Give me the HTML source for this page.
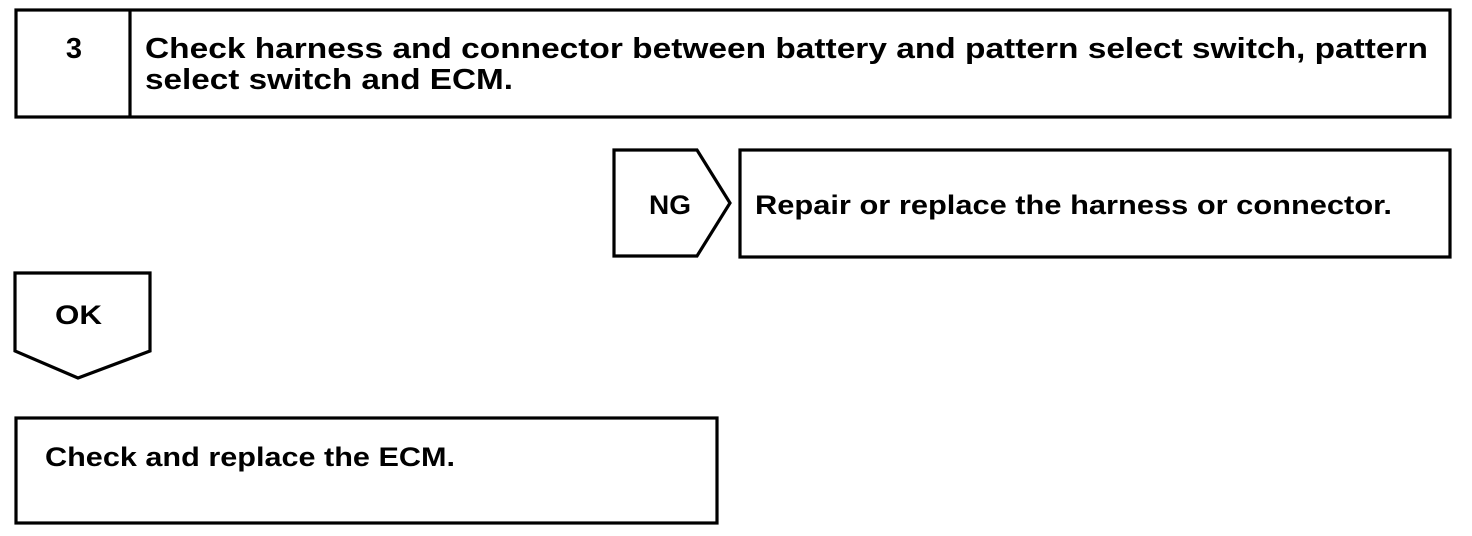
<!DOCTYPE html>
<html><head><style>html,body{margin:0;padding:0;background:#fff}svg{display:block}</style></head>
<body>
<svg width="1472" height="536" viewBox="0 0 1472 536" xmlns="http://www.w3.org/2000/svg">
<g fill="none" stroke="#000" stroke-width="3.2">
<rect x="16" y="10" width="1434" height="107"/>
<line x1="130" y1="10" x2="130" y2="117"/>
<polygon points="614,150 697,150 730,203 697,256 614,256"/>
<rect x="740" y="150" width="710" height="107"/>
<polygon points="15,273 150,273 150,351 78,378 15,351"/>
<rect x="16" y="418" width="701" height="105"/>
</g>
<g font-family="Liberation Sans, Arial, sans-serif" font-weight="bold" fill="#000">
<text x="74" y="58" font-size="29" text-anchor="middle">3</text>
<text x="145" y="58" font-size="29" textLength="1283" lengthAdjust="spacingAndGlyphs">Check harness and connector between battery and pattern select switch, pattern</text>
<text x="145" y="89" font-size="29" textLength="368" lengthAdjust="spacingAndGlyphs">select switch and ECM.</text>
<text x="649" y="214" font-size="27" textLength="42" lengthAdjust="spacingAndGlyphs">NG</text>
<text x="755" y="214" font-size="27" textLength="637" lengthAdjust="spacingAndGlyphs">Repair or replace the harness or connector.</text>
<text x="55" y="324" font-size="27" textLength="47" lengthAdjust="spacingAndGlyphs">OK</text>
<text x="45" y="466" font-size="27" textLength="410" lengthAdjust="spacingAndGlyphs">Check and replace the ECM.</text>
</g>
</svg>
</body></html>
